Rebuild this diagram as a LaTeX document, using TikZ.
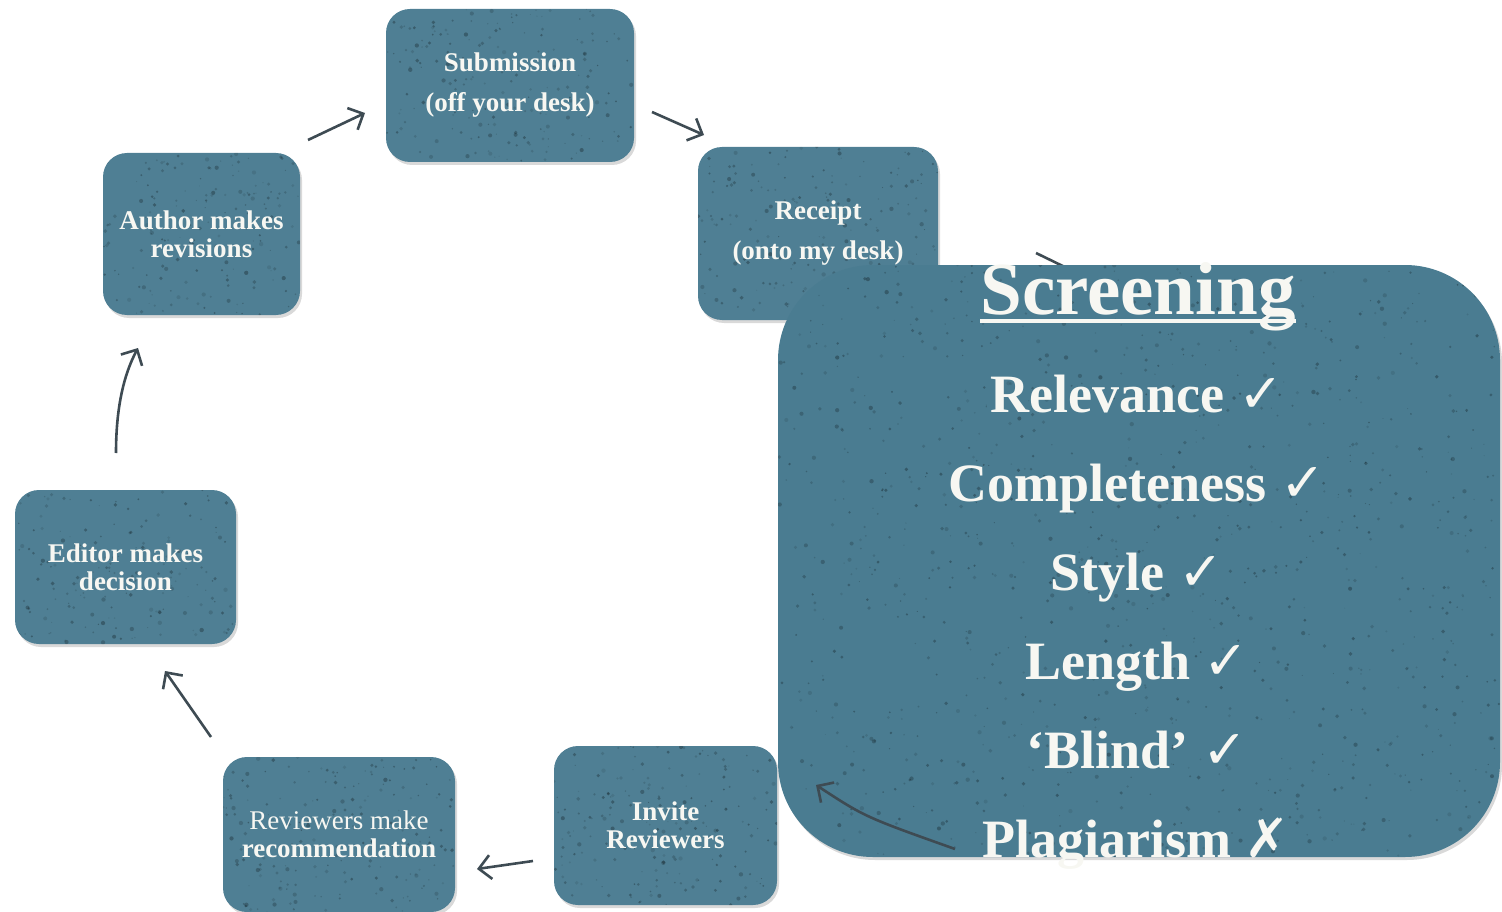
\documentclass[tikz,border=0pt]{standalone}
\usepackage{fontspec}
\setmainfont{Liberation Serif}
\newfontfamily\symfont{DejaVu Sans}
\usetikzlibrary{arrows.meta,shadows,calc}
\definecolor{boxblue}{HTML}{4F7F94}
\definecolor{bigblue}{HTML}{4A7C91}
\definecolor{arrowgray}{HTML}{3E4B53}
\definecolor{txt}{HTML}{F7F7F2}
\tikzset{
  speckles/.style={path picture={%
    \foreach \k in {1,...,#1}{%
      \pgfmathsetmacro\su{rnd}\pgfmathsetmacro\sv{rnd}%
      \pgfmathsetmacro\sr{0.5+1.7*rnd}\pgfmathsetmacro\so{0.08+0.2*rnd}%
      \coordinate (spx) at ($(path picture bounding box.south west)!\su!(path picture bounding box.south east)$);
      \coordinate (spy) at ($(path picture bounding box.south west)!\sv!(path picture bounding box.north west)$);
      \fill[black,opacity=\so] (spx |- spy) circle (\sr pt);}}},
  box/.style={fill=boxblue, rounded corners=24pt,
    drop shadow={opacity=0.3,shadow xshift=2pt,shadow yshift=-3pt},
    text=txt, align=center, inner sep=0pt,
    font=\bfseries\fontsize{27}{28}\selectfont},
  wide/.style={font=\bfseries\fontsize{27}{40}\selectfont},
  arr/.style={draw=arrowgray, line width=2.6pt, -{Straight Barb[length=12pt,width=24pt]}},
  item/.style={anchor=base, text=txt, inner sep=0pt,
    font=\bfseries\fontsize{54}{60}\selectfont}
}
\begin{document}
\begin{tikzpicture}[x=1pt,y=-1pt]
\pgfmathsetseed{7}
\useasboundingbox (0,0) rectangle (1502,912);
% small boxes
\node[box,wide,speckles=200,minimum width=248pt,minimum height=153pt] (sub) at (510,85.5)
  {\raisebox{-3pt}{\parbox{240pt}{\centering Submission\\(off your desk)}}};
\node[box,wide,speckles=200,minimum width=240pt,minimum height=173pt] (rec) at (818,233.5)
  {\raisebox{-3pt}{\parbox{236pt}{\centering Receipt\\(onto my desk)}}};
\node[box,speckles=180,minimum width=197pt,minimum height=162pt] (aut) at (201.5,234)
  {Author makes\\revisions};
\node[box,speckles=180,minimum width=221pt,minimum height=154pt] (edi) at (125.5,567)
  {Editor makes\\decision};
\node[box,speckles=200,minimum width=232pt,minimum height=155pt] (rev) at (339,834.5)
  {{\mdseries Reviewers make}\\recommendation};
\node[box,speckles=200,minimum width=223pt,minimum height=159pt] (inv) at (665.5,825.5)
  {Invite\\Reviewers};
% connector end points
\coordinate (a1s) at (308,140);  \coordinate (a1e) at (365,113);
\coordinate (a2s) at (652,112);  \coordinate (a2e) at (704,135);
\coordinate (a3s) at (1036,253); \coordinate (a3e) at (1112,290);
\coordinate (a4s) at (955,849);  \coordinate (a4e) at (816,785);
\coordinate (a5s) at (533,861);  \coordinate (a5e) at (477,869);
\coordinate (a6s) at (211,737);  \coordinate (a6e) at (165,671);
\coordinate (a7s) at (116,453);  \coordinate (a7e) at (138,348);
\draw[arr] (a1s) -- (a1e);
\draw[arr] (a2s) -- (a2e);
\draw[arr] (a3s) -- (a3e);
\draw[arr] (a5s) -- (a5e);
\draw[arr] (a6s) -- (a6e);
\draw[arr] (a7s) .. controls (116,410) and (123,376) .. (a7e);
% screening box
\path[fill=bigblue, rounded corners=95pt, speckles=1100,
  drop shadow={opacity=0.3,shadow xshift=2pt,shadow yshift=-3pt}]
  (778,265) rectangle (1500,857);
\node[item,font=\bfseries\fontsize{75}{80}\selectfont] (ttl) at (1138,314) {Screening};
\draw[txt,line width=3.5pt] ([yshift=-7pt]ttl.base west) -- ([yshift=-7pt]ttl.base east);
\node[item] (i1) at (1137,412) {Relevance {\symfont ✓}};
\node[item] (i2) at (1137,501) {Completeness {\symfont ✓}};
\node[item] (i3) at (1137,590) {Style {\symfont ✓}};
\node[item] (i4) at (1137,679) {Length {\symfont ✓}};
\node[item] (i5) at (1137,768) {`Blind' {\symfont ✓}};
\node[item] (i6) at (1136,857) {Plagiarism\ {\symfont\mdseries ✗}};
\draw[arr] (a4s) .. controls (865,817) .. (a4e);
\end{tikzpicture}
\end{document}
